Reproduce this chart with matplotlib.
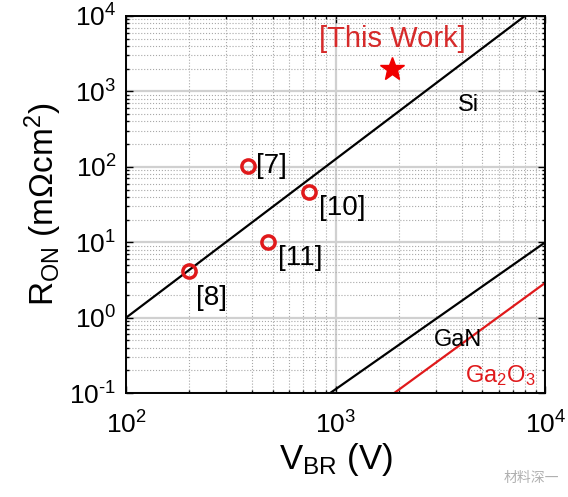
import numpy as np
import matplotlib
matplotlib.use('Agg')
import matplotlib.pyplot as plt
from matplotlib.ticker import FuncFormatter

plt.rcParams['font.family'] = ['Liberation Sans', 'Noto Sans CJK SC', 'DejaVu Sans']
plt.rcParams['mathtext.fontset'] = 'custom'
plt.rcParams['mathtext.rm'] = 'Liberation Sans'
plt.rcParams['mathtext.it'] = 'Liberation Sans:italic'
plt.rcParams['mathtext.bf'] = 'Liberation Sans:bold'

# limit lines (end points)
si_v = [100, 8000]
si_r = [1.0, 1e4]
gan_v = [940, 1e4]
gan_r = [0.1, 10.0]
ga2o3_v = [1900, 1e4]
ga2o3_r = [0.1, 2.9]

# reported devices
ref_names = ['[7]', '[10]', '[11]', '[8]']
ref_v = [382, 748, 476, 200]
ref_r = [104, 47, 10.2, 4.1]

# this work
this_v = [1860]
this_r = [2000]


def pow10(val, pos):
    # MATLAB style labels, plain hyphen for negative exponents
    e = int(round(np.log10(val)))
    return '10$^{\\text{%d}}$' % e


fig = plt.figure(figsize=(5.68, 4.97), dpi=100)
ax = fig.add_axes([0.222, 0.209, 0.738, 0.759])

ax.set_xscale('log')
ax.set_yscale('log')
ax.set_xlim(100, 1e4)
ax.set_ylim(0.1, 1e4)
ax.xaxis.set_major_formatter(FuncFormatter(pow10))
ax.yaxis.set_major_formatter(FuncFormatter(pow10))

ax.grid(True, which='major', color='#d0d0d0', linestyle='-', linewidth=1.6)
ax.grid(True, which='minor', color='#a8a8a8', linestyle=':', linewidth=0.8)
ax.set_axisbelow(True)

ax.plot(si_v, si_r, color='black', linewidth=1.6)
ax.plot(gan_v, gan_r, color='black', linewidth=1.6)
ax.plot(ga2o3_v, ga2o3_r, color='#e0191b', linewidth=1.6)

ax.plot(ref_v, ref_r, linestyle='none', marker='o', markersize=9.5,
        markerfacecolor='none', markeredgecolor='#e0191b', markeredgewidth=2.5)
ax.plot(this_v, this_r, linestyle='none', marker='*', markersize=18,
        color='#f00000')

# labels next to points
offsets = {'[7]': (6, 0), '[10]': (7, -12), '[11]': (7, -12), '[8]': (5, -19)}
for name, v, r in zip(ref_names, ref_v, ref_r):
    dx, dy = offsets[name]
    ax.annotate(name, (v, r), xytext=(dx, dy), textcoords='offset points',
                fontsize=20, ha='left', va='center')

ax.text(1860, 5000, '[This Work]', color='#d62a2a', fontsize=21,
        ha='center', va='center')
ax.text(4300, 650, 'Si', fontsize=17, ha='center', va='center')
ax.text(3850, 0.5, 'GaN', fontsize=17, ha='center', va='center')
ax.text(6100, 0.17, 'Ga$_2$O$_3$', color='#e0191b', fontsize=17,
        ha='center', va='center')

ax.tick_params(which='both', direction='in', top=True, right=True,
               labelsize=19, width=1.0)
ax.tick_params(which='major', length=5)
ax.tick_params(axis='x', which='major', pad=13)
ax.tick_params(axis='y', which='major', pad=7)
ax.tick_params(which='minor', length=2.5)
for s in ax.spines.values():
    s.set_linewidth(1.4)

ax.set_xlabel('V$_{\\mathrm{BR}}$ (V)', fontsize=25, labelpad=2)
ax.set_ylabel('R$_{\\mathrm{ON}}$ (m$\\Omega$cm$^2$)', fontsize=24, labelpad=4)

fig.text(0.985, 0.025, '材料深一', fontsize=10, color='#b0b0b0',
         ha='right', va='bottom', family=['Noto Sans CJK SC', 'DejaVu Sans'])

fig.savefig('out.png', dpi=100)
